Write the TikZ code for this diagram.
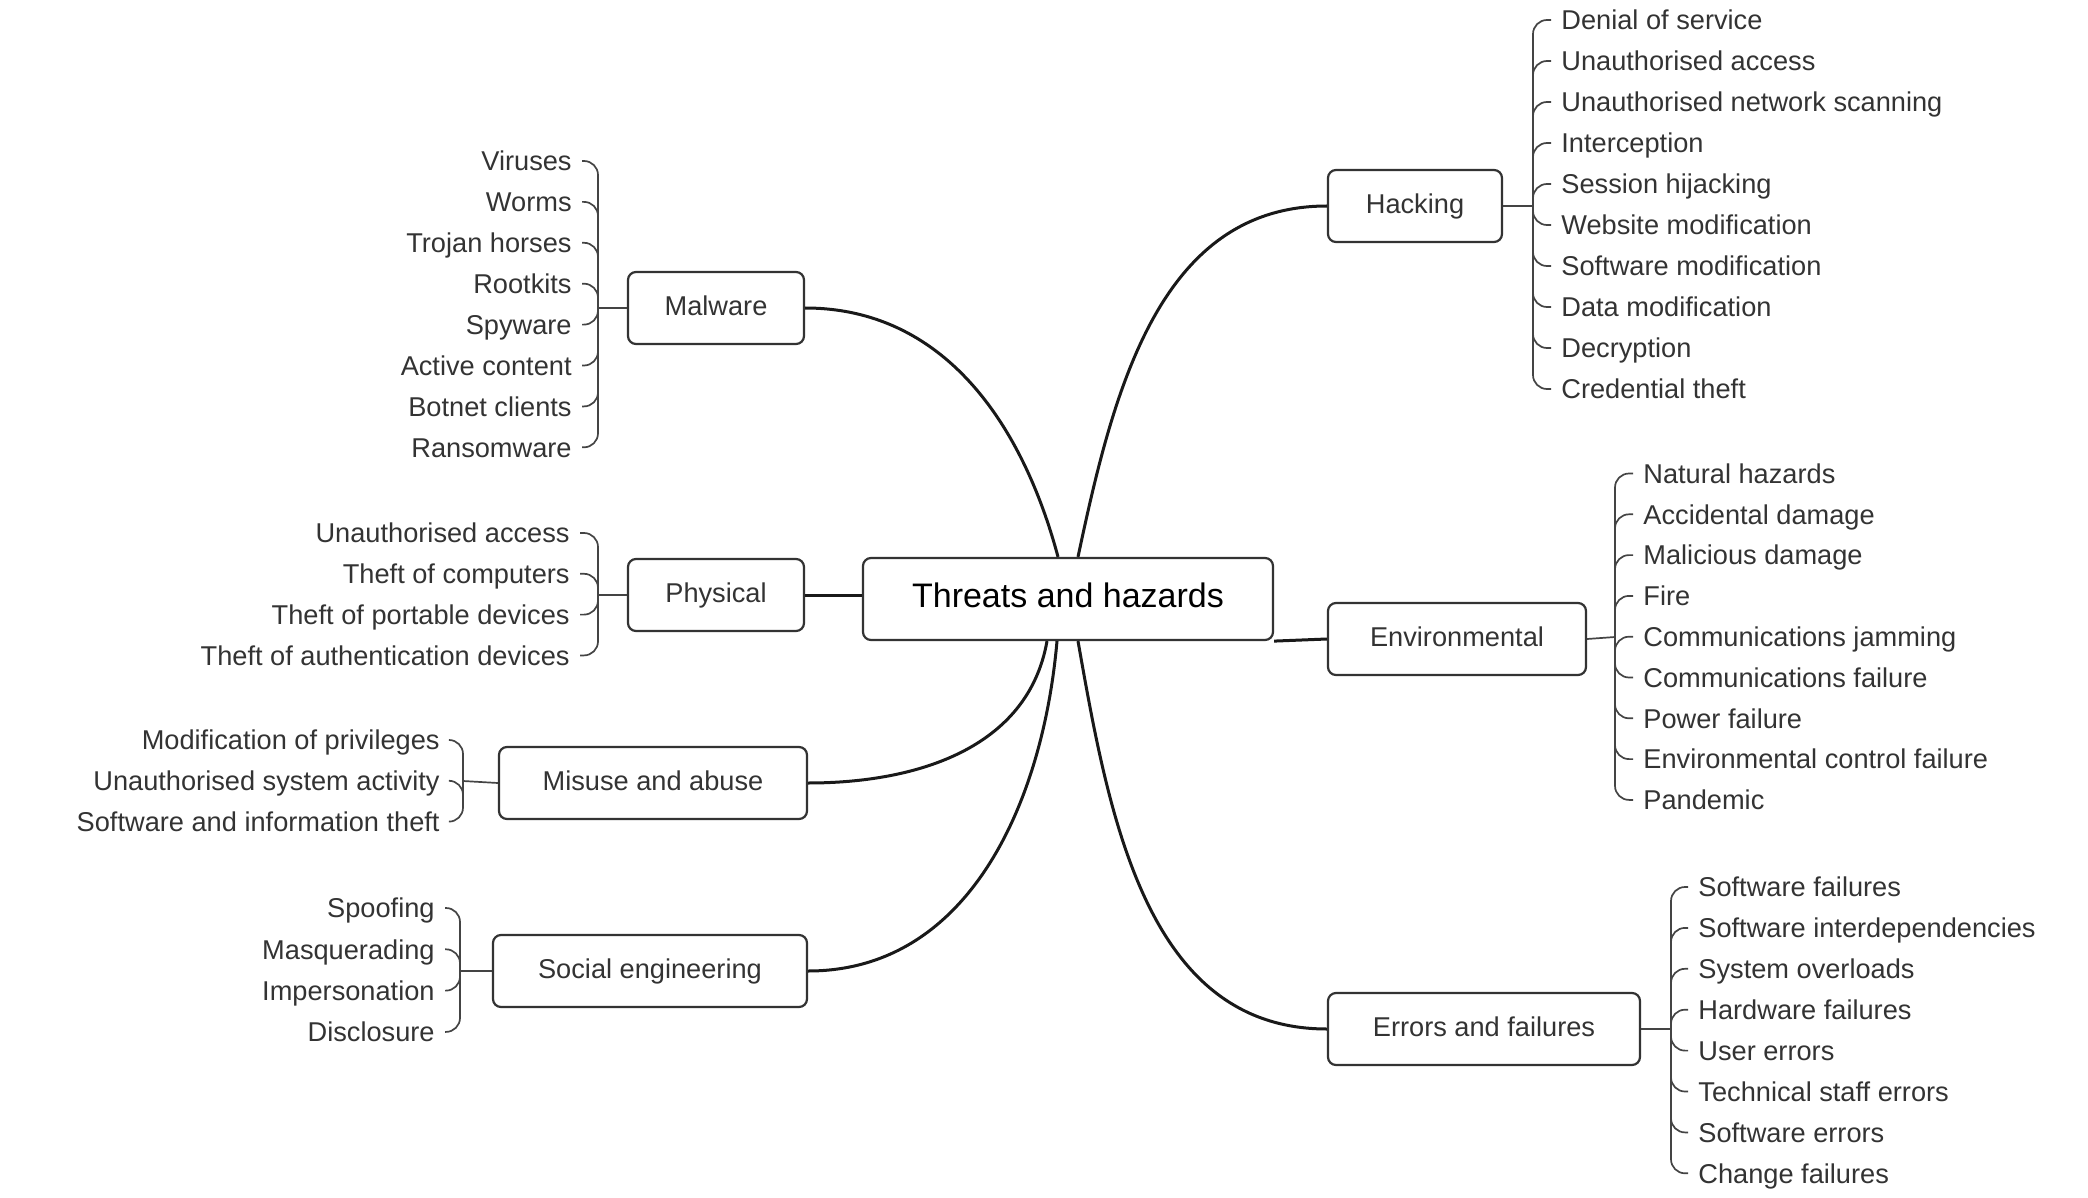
\documentclass[tikz,border=0pt]{standalone}
\usepackage{fontspec}
\setmainfont{Liberation Sans}
\definecolor{inkgray}{HTML}{333333}
\definecolor{linegray}{HTML}{444444}

\begin{document}
\begin{tikzpicture}[x=0.5pt, y=0.5pt,
    cat/.style={draw=inkgray, line width=1.1pt, rounded corners=4pt, minimum height=36pt,
      inner sep=2pt, text=inkgray, text height=9.4pt, text depth=2pt,
      font=\fontsize{13.6}{16}\selectfont},
    item/.style={inner xsep=5pt, inner ysep=3pt, text=inkgray, text height=9.8pt,
      text depth=0pt, font=\fontsize{13.6}{16}\selectfont},
    brace/.style={draw=linegray, line width=0.85pt, rounded corners=7pt},
    trunk/.style={line width=1.5pt, draw=black!90}]
    \useasboundingbox (0,0) rectangle (2088,-1198);

    % centre and the seven groups
    \node[cat, minimum width=205pt, minimum height=41pt, text=black, text height=11pt,
      text depth=2.6pt, font=\fontsize{17}{20}\selectfont] (threats) at (1068,-599)
      {Threats and hazards};
    \node[cat, minimum width=88pt] (malware) at (716,-308) {Malware};
    \node[cat, minimum width=88pt] (physical) at (716,-595) {Physical};
    \node[cat, minimum width=154pt] (misuse) at (653,-783) {Misuse and abuse};
    \node[cat, minimum width=157pt] (social) at (650,-971) {Social engineering};
    \node[cat, minimum width=87pt] (hacking) at (1415,-206) {Hacking};
    \node[cat, minimum width=129pt] (environ) at (1457,-639) {Environmental};
    \node[cat, minimum width=156pt] (errors) at (1484,-1029) {Errors and failures};

    % links to the centre
    \draw[trunk] (malware.east) to[out=0, in=105] ([xshift=-5pt]threats.north);
    \draw[trunk] (hacking.west) to[out=180, in=78] ([xshift=5pt]threats.north);
    \draw[trunk] (physical.east) -- (physical.east -| threats.west);
    \draw[trunk] (misuse.east) to[out=0, in=-100] ([xshift=-10.5pt]threats.south);
    \draw[trunk] (social.east) to[out=0, in=-95] ([xshift=-5.5pt]threats.south);
    \draw[trunk] (errors.west) to[out=180, in=-80] ([xshift=5pt]threats.south);
    \draw[trunk] (threats.south east) -- (environ.west);

    % left-hand lists
    \coordinate (mj) at (598,-308);
    \draw[brace] (malware.west) -- (mj);
    \foreach \t [count=\i from 0] in {Viruses, Worms, Trojan horses, Rootkits, Spyware,
        Active content, Botnet clients, Ransomware} {
      \node[item, anchor=east] (m\i) at (582,{-161-40.9*\i}) {\t};
      \draw[brace] (mj) |- (m\i.east);
    }
    \coordinate (pj) at (598,-595);
    \draw[brace] (physical.west) -- (pj);
    \foreach \t [count=\i from 0] in {Unauthorised access, Theft of computers,
        Theft of portable devices, Theft of authentication devices} {
      \node[item, anchor=east] (p\i) at (580,{-533-40.8*\i}) {\t};
      \draw[brace] (pj) |- (p\i.east);
    }
    \coordinate (uj) at (463,-781);
    \draw[brace] (misuse.west) -- (uj);
    \foreach \t [count=\i from 0] in {Modification of privileges,
        Unauthorised system activity, Software and information theft} {
      \node[item, anchor=east] (u\i) at (450,{-740-40.8*\i}) {\t};
      \draw[brace] (uj) |- (u\i.east);
    }
    \coordinate (sj) at (460,-971);
    \draw[brace] (social.west) -- (sj);
    \foreach \t [count=\i from 0] in {Spoofing, Masquerading, Impersonation, Disclosure} {
      \node[item, anchor=east] (s\i) at (445,{-908-41.3*\i}) {\t};
      \draw[brace] (sj) |- (s\i.east);
    }

    % right-hand lists
    \coordinate (hj) at (1533,-206);
    \draw[brace] (hacking.east) -- (hj);
    \foreach \t [count=\i from 0] in {Denial of service, Unauthorised access,
        Unauthorised network scanning, Interception, Session hijacking,
        Website modification, Software modification, Data modification,
        Decryption, Credential theft} {
      \node[item, anchor=west] (h\i) at (1551,{-20-41*\i}) {\t};
      \draw[brace] (hj) |- (h\i.west);
    }
    \coordinate (ej) at (1615,-637);
    \draw[brace] (environ.east) -- (ej);
    \foreach \t [count=\i from 0] in {Natural hazards, Accidental damage, Malicious damage,
        Fire, Communications jamming, Communications failure, Power failure,
        Environmental control failure, Pandemic} {
      \node[item, anchor=west] (e\i) at (1633,{-473.5-40.8*\i}) {\t};
      \draw[brace] (ej) |- (e\i.west);
    }
    \coordinate (fj) at (1671,-1029);
    \draw[brace] (errors.east) -- (fj);
    \foreach \t [count=\i from 0] in {Software failures, Software interdependencies,
        System overloads, Hardware failures, User errors, Technical staff errors,
        Software errors, Change failures} {
      \node[item, anchor=west] (f\i) at (1688,{-887-40.9*\i}) {\t};
      \draw[brace] (fj) |- (f\i.west);
    }
  \end{tikzpicture}
\end{document}
